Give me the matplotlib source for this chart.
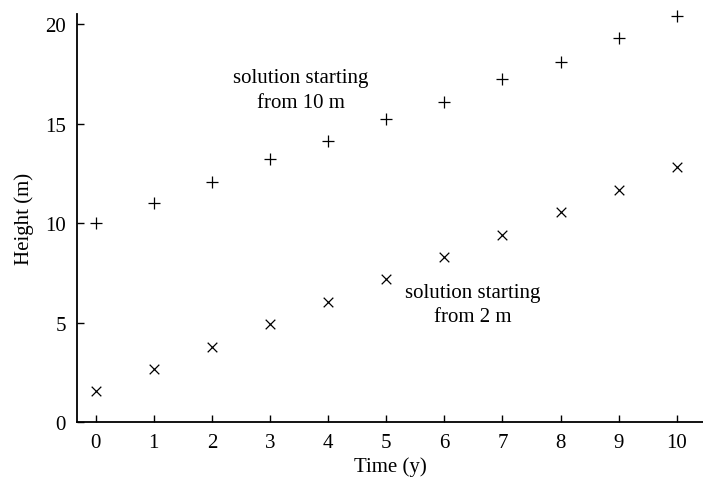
import numpy as np
import matplotlib.pyplot as plt

# readings
years = [0, 1, 2, 3, 4, 5, 6, 7, 8, 9, 10]
height_from_10 = [10.0, 11.0, 12.05, 13.2, 14.1, 15.25, 16.1, 17.25, 18.1, 19.3, 20.4]
height_from_2 = [1.55, 2.65, 3.75, 4.9, 6.05, 7.2, 8.3, 9.4, 10.55, 11.65, 12.8]
x_ticks = [0, 1, 2, 3, 4, 5, 6, 7, 8, 9, 10]
y_ticks = [0, 5, 10, 15, 20]

plt.rcParams['font.family'] = ['Liberation Serif', 'DejaVu Serif']

fig = plt.figure(figsize=(7.03, 4.81), dpi=100)
ax = fig.add_axes([0.1095, 0.1206, 0.8905, 0.848])

ax.scatter(years, height_from_10, marker='+', s=80, c='black', linewidths=0.9, clip_on=False)
ax.scatter(years, height_from_2, marker='x', s=48, c='black', linewidths=0.9, clip_on=False)

ax.text(3.53, 16.7, 'solution starting\nfrom 10 m', fontsize=15,
        ha='center', va='center', linespacing=1.4)
ax.text(6.49, 5.9, 'solution starting\nfrom 2 m', fontsize=15,
        ha='center', va='center', linespacing=1.4)

ax.set_xlim(-0.32, 10.45)
ax.set_ylim(0, 20.5)
ax.set_xticks(x_ticks)
ax.set_yticks(y_ticks)
ax.tick_params(direction='in', length=5, width=1, labelsize=15, pad=8, colors='black')
ax.spines['top'].set_visible(False)
ax.spines['right'].set_visible(False)
ax.spines['left'].set_linewidth(1.3)
ax.spines['bottom'].set_linewidth(1.3)

ax.set_xlabel('Time (y)', fontsize=15, labelpad=3)
ax.set_ylabel('Height (m)', fontsize=15, labelpad=8)

fig.savefig('out.png', dpi=100)
